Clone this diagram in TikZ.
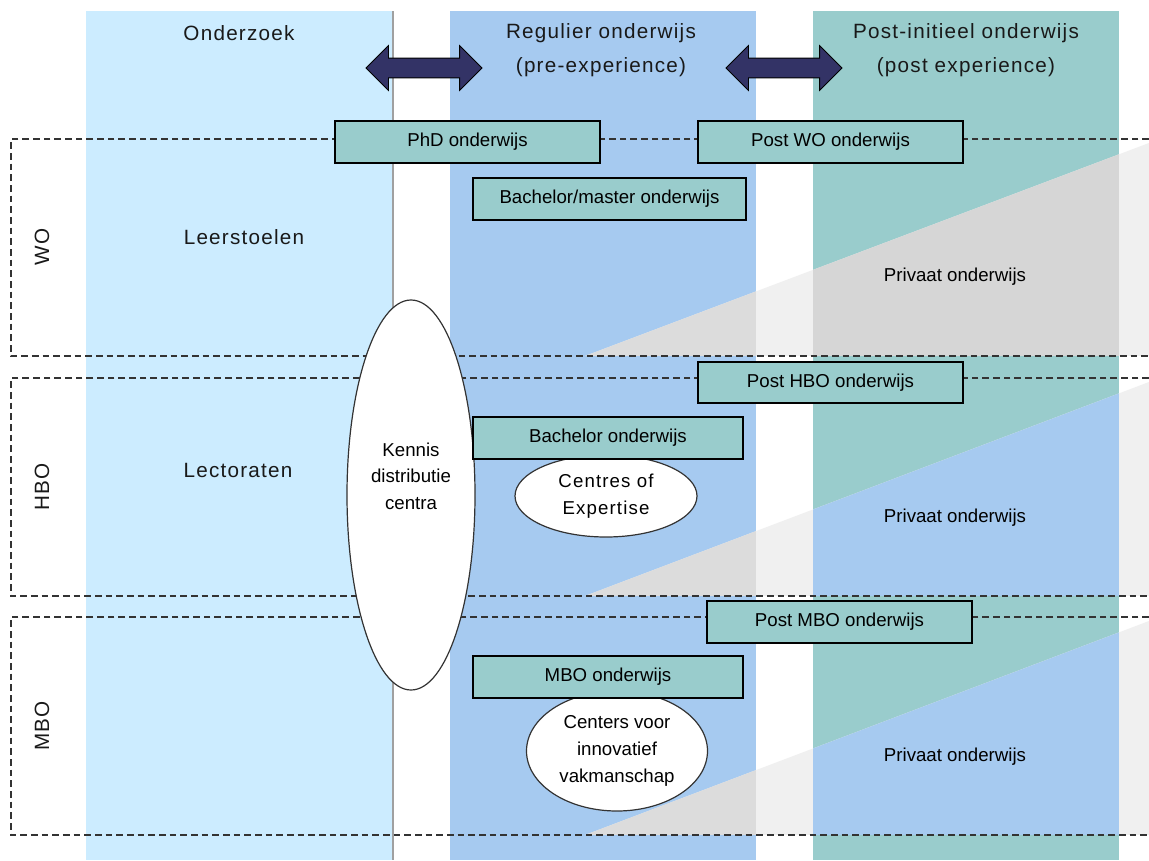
\documentclass[tikz,border=0pt]{standalone}
\usepackage{fontspec}
\setmainfont{Liberation Sans}
\newfontfamily\hdfont[LetterSpace=6]{Liberation Sans}
\usetikzlibrary{shapes.geometric,shapes.arrows}
\definecolor{colA}{HTML}{CCECFF}
\definecolor{colB}{HTML}{A6CAF0}
\definecolor{colC}{HTML}{99CCCC}
\definecolor{boxfill}{HTML}{99CCCC}
\definecolor{arrowfill}{HTML}{333366}
\definecolor{trilight}{HTML}{F0F0F0}
\definecolor{tridark}{HTML}{DCDCDC}
\definecolor{tridarkteal}{HTML}{D6D6D6}
\definecolor{sepline}{HTML}{A0A0A0}
\begin{document}
\begin{tikzpicture}[x=0.75pt,y=-0.75pt,
  box/.style={draw=black, line width=0.9pt, fill=boxfill, rectangle, inner sep=0pt, font=\fontsize{14}{17}\selectfont, text=black},
  ell/.style={ellipse, draw=black!80, line width=0.9pt, fill=white, inner sep=0pt, align=center, font=\fontsize{14}{20}\selectfont},
  band/.style={dash pattern=on 5pt off 3pt, draw=black!80, line width=1pt},
  hd/.style={font=\hdfont\fontsize{15.5}{25}\selectfont, align=center, text=black!90},
  lbl/.style={font=\fontsize{14}{20}\selectfont, align=center, text=black},
  dblarrow/.style={double arrow, fill=arrowfill, draw=black, line width=0.6pt, inner xsep=0pt, inner ysep=7.1pt, double arrow head extend=9.4pt, minimum height=87pt}
]
\useasboundingbox (0,0) rectangle (1149,860);
\fill[white] (0,0) rectangle (1149,860);
% columns
\fill[colA] (86,11) rectangle (392,860);
\fill[colB] (450,11) rectangle (756,860);
\fill[colC] (813,11) rectangle (1119,860);
% triangles
\foreach \t/\b/\c in {139/356/tridarkteal, 378/596/colB, 617/835/colB} {
  \begin{scope}
    \clip (585,\b) -- (1149,\b) -- (1149,\t+4) -- cycle;
    \fill[trilight] (440,\t) rectangle (1149,\b);
    \fill[tridark] (450,\t) rectangle (756,\b);
    \fill[\c] (813,\t) rectangle (1119,\b);
  \end{scope}
}
% separator line
\draw[sepline, line width=1.5pt] (393,11) -- (393,860);
% dashed bands
\draw[band] (1149,139) -- (11,139) -- (11,356) -- (1149,356);
\draw[band] (1149,378) -- (11,378) -- (11,596) -- (1149,596);
\draw[band] (1149,617) -- (11,617) -- (11,835) -- (1149,835);
% headers
\node[hd] (h1) at (239,33) {Onderzoek};
\node[hd] (h2) at (601,50) {Regulier onderwijs\\(pre-experience)};
\node[hd] (h3) at (966,50) {Post-initieel onderwijs\\(post experience)};
% side labels
\node[hd, rotate=90] (wo) at (42,247) {WO};
\node[hd, rotate=90] (hbo) at (42,487) {HBO};
\node[hd, rotate=90] (mbo) at (42,726) {MBO};
\node[hd] (ls) at (244,237) {Leerstoelen};
\node[hd] (lc) at (238,470) {Lectoraten};
\node[lbl] (p1) at (955,277) {Privaat onderwijs};
\node[lbl] (p2) at (955,518) {Privaat onderwijs};
\node[lbl] (p3) at (955,757) {Privaat onderwijs};
% arrows
\node[dblarrow] (arr1) at (424,68) {};
\node[dblarrow] (arr2) at (784,68) {};
% ellipses
\node[ell, minimum width=96pt, minimum height=292.5pt] (kdc) at (411,495) {};
\node[lbl] (kdct) at (411,476) {Kennis\\distributie\\centra};
\node[ell, font=\hdfont\fontsize{14}{20}\selectfont, minimum width=136.5pt, minimum height=61.5pt] (coe) at (606,496) {Centres of\\Expertise};
\node[ell, minimum width=135.75pt, minimum height=90pt] (cvi) at (617,751) {Centers voor\\innovatief\\vakmanschap};
% boxes
\node[box, minimum width=198.75pt, minimum height=31.5pt] (phd) at (467.5,142) {PhD onderwijs};
\node[box, minimum width=198.75pt, minimum height=31.5pt] (pwo) at (830.5,142) {Post WO onderwijs};
\node[box, minimum width=204.75pt, minimum height=31.5pt] (bm) at (609.5,199) {Bachelor/master onderwijs};
\node[box, minimum width=198.75pt, minimum height=30.75pt] (phbo) at (830.5,382.5) {Post HBO onderwijs};
\node[box, minimum width=202.5pt, minimum height=31.5pt] (bach) at (608,438) {Bachelor onderwijs};
\node[box, minimum width=198.75pt, minimum height=31.5pt] (pmbo) at (839.5,622) {Post MBO onderwijs};
\node[box, minimum width=202.5pt, minimum height=31.5pt] (mboo) at (608,677) {MBO onderwijs};
\end{tikzpicture}
\end{document}
